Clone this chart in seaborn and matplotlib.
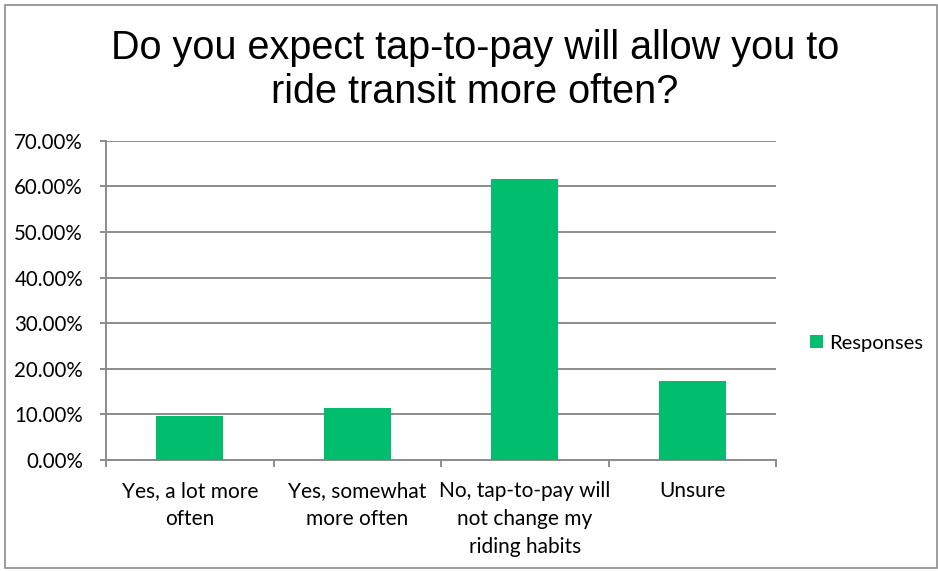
import matplotlib
matplotlib.use("Agg")
import matplotlib.pyplot as plt
from matplotlib.patches import Rectangle
from matplotlib.ticker import FixedLocator, PercentFormatter
import seaborn as sns
import pandas as pd

# Survey results
categories = [
    "Yes, a lot more\noften",
    "Yes, somewhat\nmore often",
    "No, tap-to-pay will\nnot change my\nriding habits",
    "Unsure",
]
responses = [0.0956, 0.1150, 0.6165, 0.1725]
series_name = "Responses"
y_ticks = [0.0, 0.1, 0.2, 0.3, 0.4, 0.5, 0.6, 0.7]

title = "Do you expect tap-to-pay will allow you to\nride transit more often?"

BAR_GREEN = "#00BE6E"
GRID_GREY = "#8C8C8C"
W, H = 938, 571

df = pd.DataFrame({"category": categories, "share": responses,
                   "series": [series_name] * len(categories)})

sns.set_theme(style="white")
plt.rcParams["font.family"] = ["Lato", "DejaVu Sans"]

fig = plt.figure(figsize=(W / 100, H / 100), dpi=100)
ax = fig.add_axes([106 / W, 1 - 460 / H, 670 / W, (460 - 140.7) / H])

sns.barplot(data=df, x="category", y="share", hue="series",
            palette={series_name: BAR_GREEN}, width=0.4, ax=ax,
            saturation=1, edgecolor="none", zorder=3)

ax.set_xlim(-0.5, len(categories) - 0.5)
ax.set_ylim(0, 0.7)
ax.set_xlabel("")
ax.set_ylabel("")

# y axis: percentages with gridlines
ax.yaxis.set_major_locator(FixedLocator(y_ticks))
ax.yaxis.set_major_formatter(PercentFormatter(xmax=1, decimals=2))
ax.grid(axis="y", color=GRID_GREY, linewidth=1.4, zorder=0)
ax.set_axisbelow(True)

# x axis: labels at centers, ticks at category boundaries
ax.set_xticks(range(len(categories)))
ax.set_xticklabels(categories, fontsize=15, color="#000000", linespacing=1.5)
ax.tick_params(axis="x", which="major", length=0, pad=15)
ax.set_xticks([i - 0.5 for i in range(len(categories) + 1)], minor=True)
ax.tick_params(axis="x", which="minor", length=5, width=1.4,
               color=GRID_GREY, direction="out", bottom=True)
ax.tick_params(axis="y", which="major", length=4.5, width=1.4,
               color=GRID_GREY, direction="out", left=True, pad=12,
               labelsize=14.8, labelcolor="#000000")

for side in ("top", "right"):
    ax.spines[side].set_visible(False)
for side in ("left", "bottom"):
    ax.spines[side].set_color(GRID_GREY)
    ax.spines[side].set_linewidth(1.4)

leg = ax.legend(loc="center left", bbox_to_anchor=(802 / W, 1 - 343 / H),
                bbox_transform=fig.transFigure, frameon=False,
                fontsize=14.5, handlelength=0.65, handleheight=0.65,
                handletextpad=0.3, borderaxespad=0)
for t in leg.get_texts():
    t.set_color("#000000")

fig.text(475 / W, 1 - 70 / H, title, ha="center", va="center",
         fontsize=28.5, family=["Liberation Sans Narrow", "Liberation Sans", "DejaVu Sans"],
         color="#000000", linespacing=1.18)

# chart frame
fig.patches.append(Rectangle((5 / W, 1 - 568 / H), 932 / W, 563.5 / H,
                             transform=fig.transFigure, fill=False,
                             edgecolor=GRID_GREY, linewidth=1.2))

fig.savefig("out.png", dpi=100)
